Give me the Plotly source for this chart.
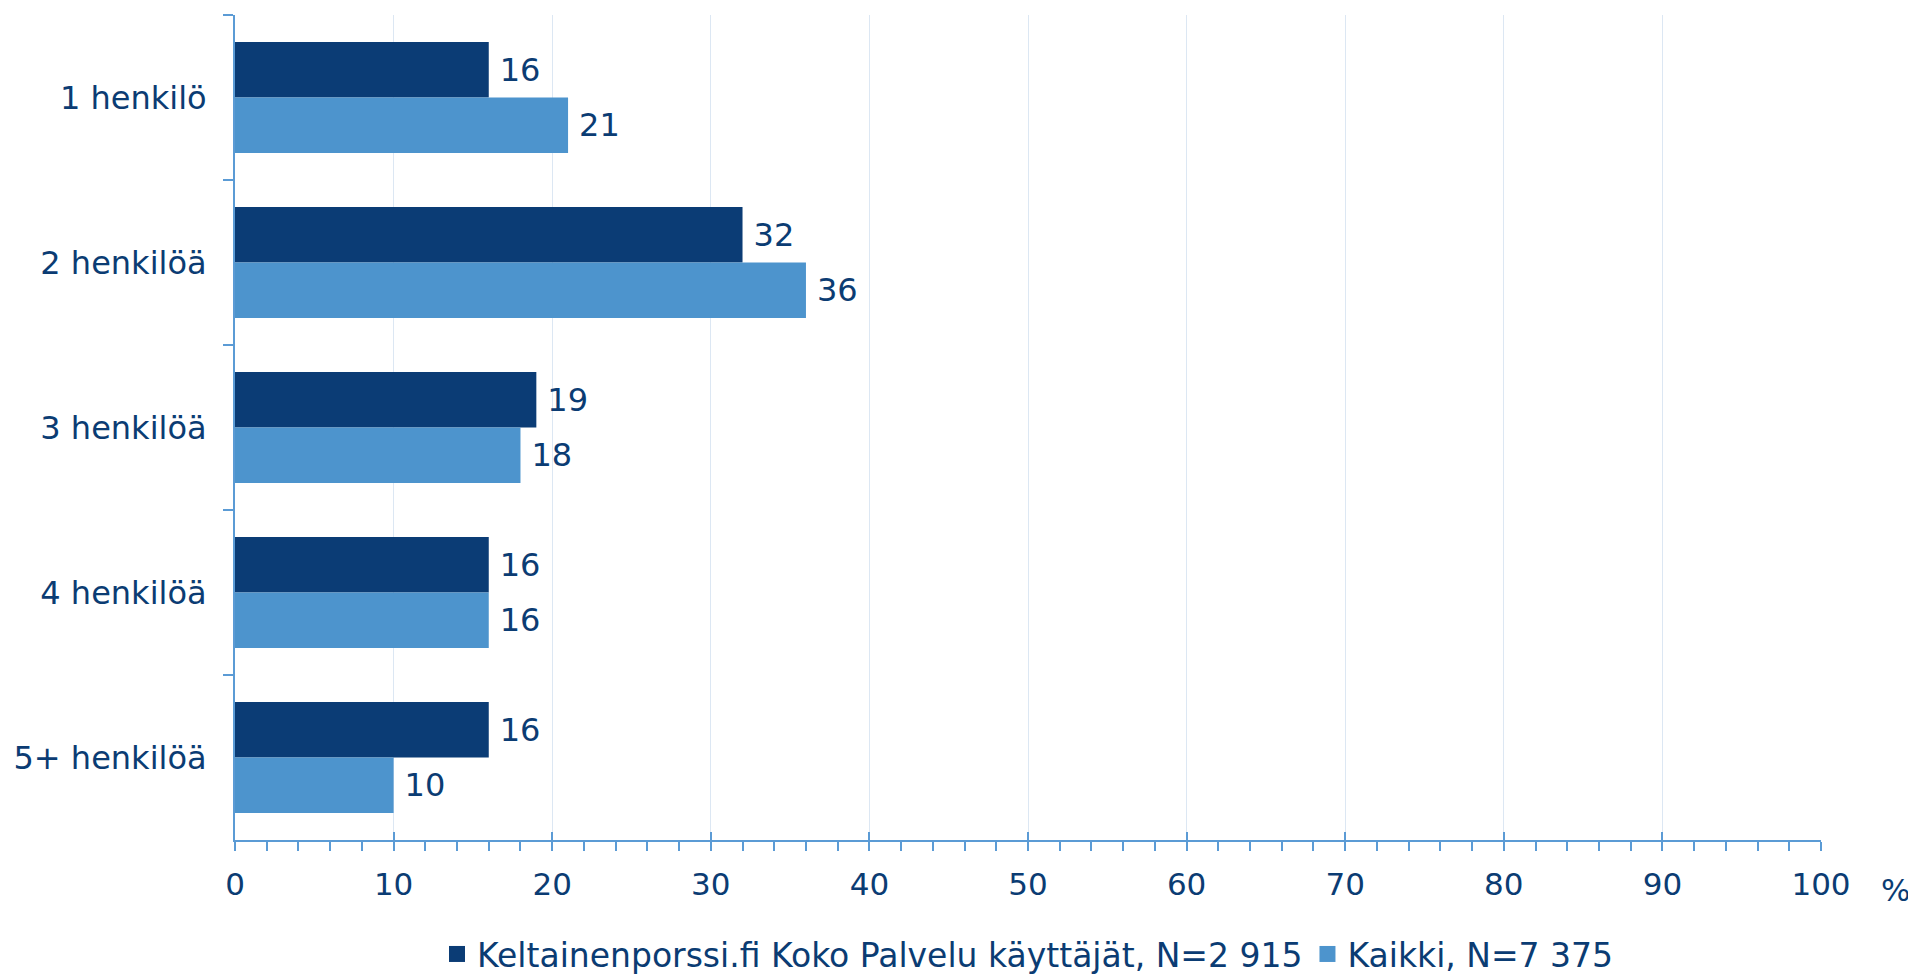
import plotly.graph_objects as go

categories = ["1 henkilö", "2 henkilöä", "3 henkilöä", "4 henkilöä", "5+ henkilöä"]
series_names = ["Keltainenporssi.fi Koko Palvelu käyttäjät, N=2 915", "Kaikki, N=7 375"]
users_values = [16, 32, 19, 16, 16]
all_values = [21, 36, 18, 16, 10]
x_ticks = [0, 10, 20, 30, 40, 50, 60, 70, 80, 90, 100]

DARK = "#0B3C75"
LIGHT = "#4D94CD"
TEXT = "#0B3C73"
AXIS = "#5B9BD5"
GRID = "#DCE7F3"
FONT = "DejaVu Sans"

fig = go.Figure()
for i, (name, vals, col) in enumerate([(series_names[0], users_values, DARK),
                                       (series_names[1], all_values, LIGHT)]):
    fig.add_trace(go.Bar(
        y=categories, x=vals, name=name, orientation="h",
        marker=dict(color=col, line=dict(width=0)),
        text=vals, texttemplate="\u2005%{text}", textposition="outside",
        textfont=dict(family=FONT, size=32, color=TEXT),
        cliponaxis=False, showlegend=False, legendgroup=f"g{i}",
    ))

# legend entries with larger square symbols
for i, (name, col) in enumerate([(series_names[0], DARK), (series_names[1], LIGHT)]):
    fig.add_trace(go.Scatter(
        x=[None], y=[None], mode="markers", name=name, legendgroup=f"g{i}",
        marker=dict(symbol="square", size=16, color=col, line=dict(width=0)),
        showlegend=True, hoverinfo="skip",
    ))

# invisible trace on overlay axis for inside (upper half) major ticks
fig.add_trace(go.Scatter(x=[0, 100], y=[categories[0], categories[0]], xaxis="x2", yaxis="y",
                         mode="markers", marker=dict(opacity=0), showlegend=False, hoverinfo="skip"))

fig.update_layout(
    width=1908, height=969,
    margin=dict(l=227, r=95, t=7, b=137, autoexpand=False),
    paper_bgcolor="white", plot_bgcolor="white",
    barmode="group", bargap=0.326, bargroupgap=0,
    font=dict(family=FONT, size=31, color=TEXT),
    showlegend=True,
    legend=dict(orientation="h", x=0.5, xanchor="center", y=-0.1382, yanchor="middle",
                font=dict(family=FONT, size=33, color=TEXT), traceorder="normal",
                itemwidth=30, bgcolor="rgba(0,0,0,0)", itemclick=False),
    xaxis=dict(range=[0, 100], tickvals=x_ticks, ticktext=[str(v) for v in x_ticks],
               showgrid=True, gridcolor=GRID, gridwidth=1, zeroline=False,
               showline=True, linecolor=AXIS, linewidth=2,
               ticks="outside", ticklen=9, tickwidth=2, tickcolor=AXIS,
               minor=dict(dtick=2, ticks="outside", ticklen=9, tickwidth=2, tickcolor=AXIS, showgrid=False),
               ticklabelstandoff=7, automargin=False,
               tickfont=dict(family=FONT, size=31, color=TEXT), fixedrange=True),
    xaxis2=dict(range=[0, 100], overlaying="x", side="bottom", tickvals=x_ticks,
                showticklabels=False, showgrid=False, zeroline=False, showline=False,
                ticks="inside", ticklen=8, tickwidth=2, tickcolor=AXIS, anchor="y",
                automargin=False, fixedrange=True),
    yaxis=dict(categoryorder="array", categoryarray=categories, autorange="reversed",
               showgrid=False, zeroline=False, showline=True, linecolor=AXIS, linewidth=2,
               ticks="outside", tickson="boundaries", ticklen=10, tickwidth=2, tickcolor=AXIS,
               ticklabelstandoff=20, automargin=False,
               tickfont=dict(family=FONT, size=32, color=TEXT), fixedrange=True),
    annotations=[dict(text="%", xref="paper", yref="paper", x=1.047, y=-0.06,
                      xanchor="center", yanchor="middle", showarrow=False,
                      font=dict(family=FONT, size=31, color=TEXT))],
)

fig.write_html("out.html")
